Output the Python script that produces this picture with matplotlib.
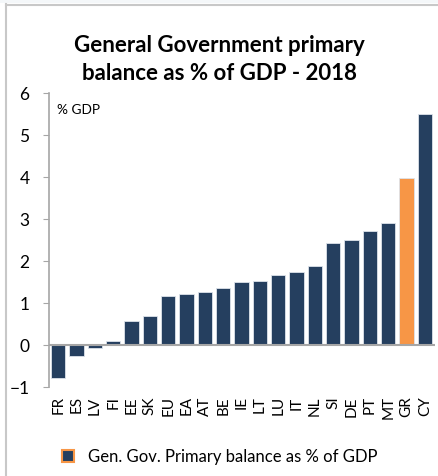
import matplotlib
matplotlib.use("Agg")
import matplotlib.pyplot as plt
from matplotlib.lines import Line2D
from matplotlib.patches import Rectangle

plt.rcParams['font.family'] = ['Lato', 'DejaVu Sans']

# data
countries = ['FR', 'ES', 'LV', 'FI', 'EE', 'SK', 'EU', 'EA', 'AT', 'BE', 'IE',
             'LT', 'LU', 'IT', 'NL', 'SI', 'DE', 'PT', 'MT', 'GR', 'CY']
balance = [-0.78, -0.26, -0.08, 0.10, 0.57, 0.69, 1.16, 1.22, 1.26, 1.36, 1.50,
           1.52, 1.67, 1.73, 1.88, 2.43, 2.49, 2.71, 2.90, 3.97, 5.50]
highlight = 'GR'

navy = '#253f5f'
orange = '#f79646'
grey = '#a6a6a6'

colors = [orange if c == highlight else navy for c in countries]

fig = plt.figure(figsize=(4.38, 4.77), dpi=100)
ax = fig.add_axes([49 / 438, 1 - 388 / 477, 386 / 438, 294 / 477])

x = range(len(countries))
ax.bar(x, balance, width=0.79, color=colors, edgecolor='#dde3ea', linewidth=0.6, zorder=2)
ax.axhline(0, color=grey, linewidth=1.5, zorder=3)

ax.set_xlim(-0.5, len(countries) - 0.45)
ax.set_ylim(-1, 6)
ax.set_yticks(range(-1, 7))
ax.set_xticks(list(x))
ax.set_xticklabels(countries, rotation=90, fontsize=11)
ax.tick_params(axis='x', length=0, pad=6)
ax.tick_params(axis='y', direction='out', length=4, color=grey, labelsize=12.5, pad=10)
for s in ['top', 'right', 'bottom']:
    ax.spines[s].set_visible(False)
ax.spines['left'].set_color(grey)
ax.spines['left'].set_linewidth(1.2)

ax.text(0.022, 0.965, '% GDP', transform=ax.transAxes, fontsize=9.8, va='top', ha='left')

fig.text(0.5, 1 - 45 / 477, 'General Government primary', ha='center', va='center',
         fontsize=16, fontweight='bold')
fig.text(0.5, 1 - 73 / 477, 'balance as % of GDP - 2018', ha='center', va='center',
         fontsize=16, fontweight='bold')

# legend
fig.add_artist(Rectangle((62 / 438, 1 - 463 / 477), 12 / 438, 12 / 477,
                         transform=fig.transFigure, facecolor=navy, edgecolor=orange,
                         linewidth=1.5))
fig.text(88 / 438, 1 - 457 / 477, 'Gen. Gov. Primary balance as % of GDP',
         ha='left', va='center', fontsize=12)

# frame
fig.add_artist(Line2D([5.5 / 438, 5.5 / 438], [0, 1 - 5 / 477], transform=fig.transFigure,
                      color='#c8c8c8', linewidth=1.5))
fig.add_artist(Line2D([5.5 / 438, 1], [1 - 5.5 / 477, 1 - 5.5 / 477], transform=fig.transFigure,
                      color='#c8c8c8', linewidth=1.5))
fig.add_artist(Rectangle((0, 1 - 4 / 477), 1, 4 / 477, transform=fig.transFigure,
                         facecolor='#f4f7f9', edgecolor='none'))

fig.savefig('out.png', dpi=100)
